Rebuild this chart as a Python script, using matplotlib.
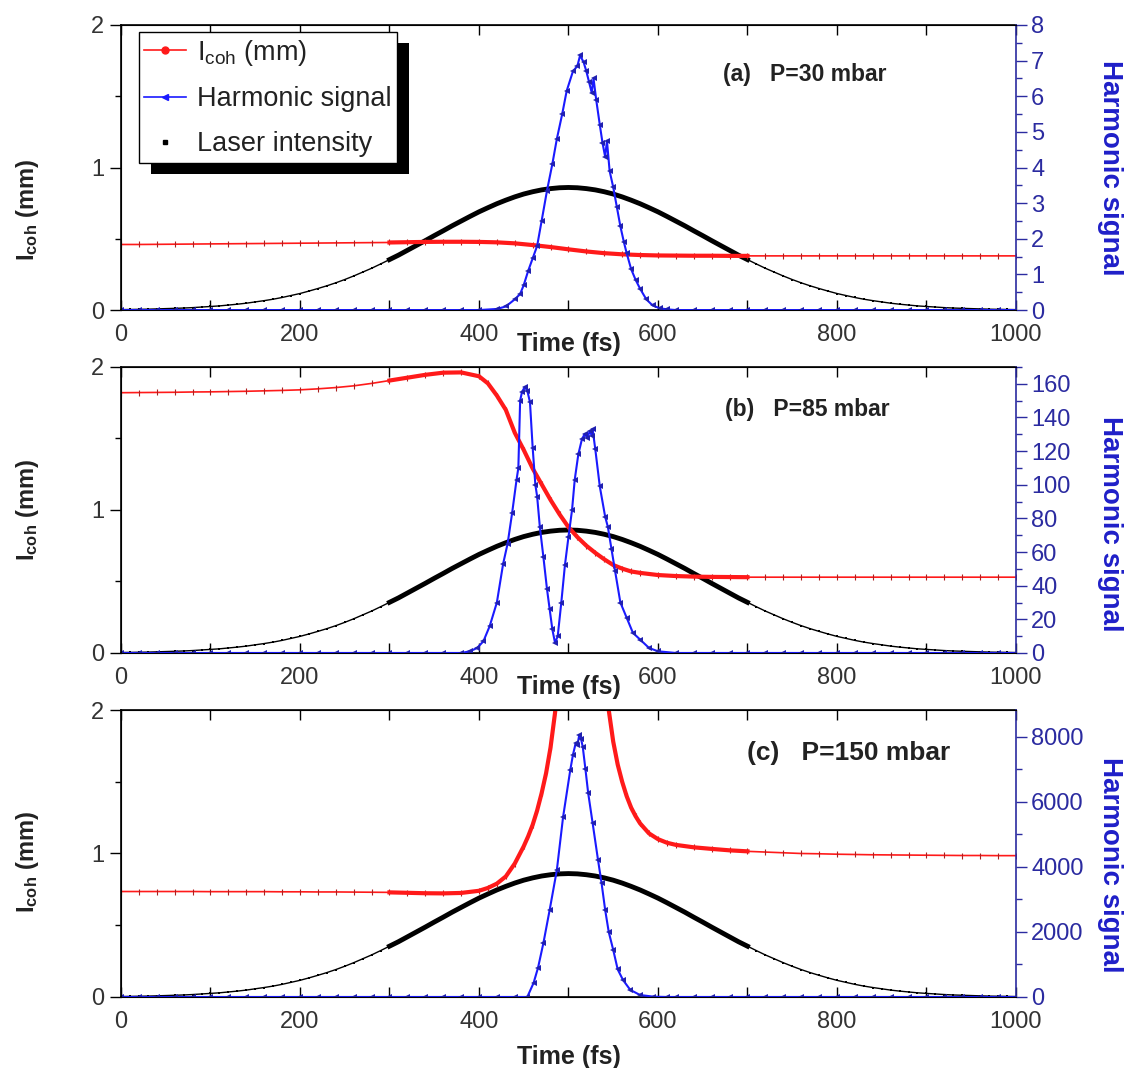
import numpy as np
import matplotlib
matplotlib.use("Agg")
import matplotlib.pyplot as plt
from matplotlib.lines import Line2D
from matplotlib.patches import Rectangle
from matplotlib.ticker import MultipleLocator

plt.rcParams['font.family'] = ['Liberation Sans', 'DejaVu Sans']
plt.rcParams['mathtext.fontset'] = 'custom'
plt.rcParams['mathtext.rm'] = 'Liberation Sans'
plt.rcParams['mathtext.bf'] = 'Liberation Sans:bold'
plt.rcParams['mathtext.it'] = 'Liberation Sans:italic'

# laser intensity (same pulse in all three panels), every 10 fs
t_laser = np.arange(0, 1001, 10)
laser = [0.003, 0.004, 0.005, 0.006, 0.008, 0.010, 0.012, 0.014, 0.017, 0.021,
         0.025, 0.029, 0.035, 0.041, 0.048, 0.057, 0.066, 0.076, 0.088, 0.102,
         0.116, 0.133, 0.151, 0.170, 0.191, 0.214, 0.239, 0.266, 0.293, 0.323,
         0.354, 0.385, 0.419, 0.453, 0.487, 0.522, 0.556, 0.591, 0.624, 0.657,
         0.689, 0.718, 0.746, 0.771, 0.794, 0.814, 0.830, 0.843, 0.852, 0.858,
         0.860,
         0.858, 0.852, 0.843, 0.830, 0.814, 0.794, 0.771, 0.746, 0.718, 0.689,
         0.657, 0.624, 0.591, 0.556, 0.522, 0.487, 0.453, 0.419, 0.385, 0.354,
         0.323, 0.293, 0.266, 0.239, 0.214, 0.191, 0.170, 0.151, 0.133, 0.116,
         0.102, 0.088, 0.076, 0.066, 0.057, 0.048, 0.041, 0.035, 0.029, 0.025,
         0.021, 0.017, 0.014, 0.012, 0.010, 0.008, 0.006, 0.005, 0.004, 0.003]

# (a) P=30 mbar
t_red_a = [0, 20, 40, 60, 80, 100, 120, 140, 160, 180, 200, 220, 240, 260, 280, 300,
           320, 340, 360, 380, 400, 420, 440, 460, 480, 500, 520, 540, 560, 580, 600,
           620, 640, 660, 680, 700,
           720, 740, 760, 780, 800, 820, 840, 860, 880, 900, 920, 940, 960, 980, 1000]
red_a = [0.460, 0.460, 0.461, 0.462, 0.463, 0.464, 0.465, 0.466, 0.467, 0.468, 0.469,
         0.470, 0.471, 0.472, 0.473, 0.474,
         0.476, 0.478, 0.479, 0.479, 0.478, 0.475, 0.468, 0.456, 0.442, 0.426, 0.411,
         0.399, 0.391, 0.386, 0.383, 0.382, 0.381, 0.381, 0.380, 0.380,
         0.380, 0.380, 0.380, 0.380, 0.380, 0.380, 0.380, 0.380, 0.380, 0.380, 0.380,
         0.380, 0.380, 0.380, 0.380]
t_harm_a = [0, 20, 40, 60, 80, 100, 120, 140, 160, 180, 200, 220, 240, 260, 280, 300,
            320, 340, 360, 380, 400, 420, 430, 440, 446, 450, 455, 460, 465, 470, 476,
            482, 487, 493, 498, 505, 510, 513, 517, 520, 523, 526, 528, 531, 535, 538,
            541, 543, 546, 550, 554, 558, 562, 565, 570, 575, 580, 587, 594, 602, 610,
            620, 640, 660, 680, 700,
            720, 740, 760, 780, 800, 820, 840, 860, 880, 900, 920, 940, 960, 980, 1000]
harm_a = [0, 0, 0, 0, 0, 0, 0, 0, 0, 0, 0, 0, 0, 0, 0, 0,
          0, 0, 0, 0, 0, 0.03, 0.1, 0.3, 0.45, 0.7, 1.1, 1.45, 1.8, 2.5, 3.35,
          4.1, 4.8, 5.5, 6.15, 6.7, 6.85, 7.15, 6.95, 6.7, 6.4, 6.1, 6.5, 5.9, 5.2, 4.7,
          4.3, 4.75, 3.9, 3.45, 2.9, 2.35, 1.9, 1.6, 1.15, 0.85, 0.6, 0.3, 0.13, 0.05, 0.02,
          0, 0, 0, 0, 0,
          0, 0, 0, 0, 0, 0, 0, 0, 0, 0, 0, 0, 0, 0, 0]

# (b) P=85 mbar
t_red_b = [0, 20, 40, 60, 80, 100, 120, 140, 160, 180, 200, 220, 240, 260, 280, 300,
           320, 340, 360, 380, 400, 410, 420, 430, 440, 450, 460, 470, 480, 490, 500,
           510, 520, 530, 540, 550, 560, 570, 580, 600, 620, 640, 660, 680, 700,
           720, 740, 760, 780, 800, 820, 840, 860, 880, 900, 920, 940, 960, 980, 1000]
red_b = [1.820, 1.821, 1.822, 1.823, 1.825, 1.826, 1.828, 1.830, 1.833, 1.836, 1.840,
         1.847, 1.856, 1.868, 1.885, 1.905,
         1.925, 1.945, 1.960, 1.962, 1.935, 1.885, 1.800, 1.700, 1.540, 1.420, 1.290,
         1.180, 1.070, 0.970, 0.880, 0.810, 0.750, 0.700, 0.655, 0.615, 0.590, 0.570,
         0.560, 0.545, 0.538, 0.534, 0.532, 0.531, 0.530,
         0.530, 0.530, 0.530, 0.530, 0.530, 0.530, 0.530, 0.530, 0.530, 0.530, 0.530,
         0.530, 0.530, 0.530, 0.530]
t_harm_b = [0, 20, 40, 60, 80, 100, 120, 140, 160, 180, 200, 220, 240, 260, 280, 300,
            320, 340, 360, 380, 390, 398, 405, 412, 420, 427, 432, 437, 442, 444, 446,
            448, 451, 454, 457, 460, 463, 465, 468, 472, 476, 479, 482, 485, 488, 492,
            496, 500, 504, 507, 511, 515, 518, 521, 524, 526, 527, 530, 535, 541, 544,
            548, 552, 558, 565, 572, 580, 590, 600, 620, 640, 660, 680, 700,
            720, 740, 760, 780, 800, 820, 840, 860, 880, 900, 920, 940, 960, 980, 1000]
harm_b = [0, 0, 0, 0, 0, 0, 0, 0, 0, 0, 0, 0, 0, 0, 0, 0,
          0, 0, 0, 0, 1, 3, 7, 16, 30, 53, 65, 83, 103, 110, 150,
          155, 158, 156, 149, 122, 100, 93, 75, 57, 38, 26, 14, 6, 10, 30,
          52, 69, 85, 103, 118, 127, 130, 128, 132, 129, 133, 121, 99, 81, 75,
          62, 49, 30, 21, 12, 8, 3, 1, 0, 0, 0, 0, 0,
          0, 0, 0, 0, 0, 0, 0, 0, 0, 0, 0, 0, 0, 0, 0]

# (c) P=150 mbar
t_red_c = [0, 20, 40, 60, 80, 100, 120, 140, 160, 180, 200, 220, 240, 260, 280, 300,
           320, 340, 360, 380, 400, 410, 420, 430, 440, 450, 455, 460, 465, 470, 475,
           480, 485, 490, 500, 520, 535, 540, 545, 550, 555, 560, 565, 570, 575, 580,
           590, 600, 610, 620, 640, 660, 680, 700,
           720, 740, 760, 780, 800, 820, 840, 860, 880, 900, 920, 940, 960, 980, 1000]
red_c = [0.735, 0.735, 0.735, 0.735, 0.735, 0.734, 0.734, 0.734, 0.734, 0.733, 0.733,
         0.732, 0.732, 0.731, 0.730, 0.729,
         0.726, 0.723, 0.722, 0.725, 0.740, 0.760, 0.790, 0.840, 0.930, 1.050, 1.120,
         1.200, 1.300, 1.420, 1.560, 1.740, 1.980, 2.300, 3.000, 3.200, 2.600, 2.300,
         2.000, 1.780, 1.620, 1.500, 1.400, 1.320, 1.260, 1.210, 1.140, 1.100, 1.075,
         1.060, 1.043, 1.032, 1.022, 1.015,
         1.010, 1.005, 1.000, 0.998, 0.995, 0.993, 0.991, 0.990, 0.989, 0.988, 0.987,
         0.986, 0.986, 0.985, 0.985]
t_harm_c = [0, 20, 40, 60, 80, 100, 120, 140, 160, 180, 200, 220, 240, 260, 280, 300,
            320, 340, 360, 380, 400, 420, 440, 454, 461, 466, 472, 479, 487, 494, 502,
            505, 508, 510, 512, 514, 516, 519, 522, 527, 533, 537, 541, 545, 550, 555,
            561, 569, 580, 595, 610, 620, 640, 660, 680, 700,
            720, 740, 760, 780, 800, 820, 840, 860, 880, 900, 920, 940, 960, 980, 1000]
harm_c = [0, 0, 0, 0, 0, 0, 0, 0, 0, 0, 0, 0, 0, 0, 0, 0,
          0, 0, 0, 0, 0, 0, 0, 0, 430, 900, 1660, 2680, 3900, 5540, 6980,
          7450, 7800, 7750, 8050, 7950, 7690, 7000, 6280, 5350, 4220, 3500, 2680, 2000, 1450, 850,
          520, 220, 60, 10, 0, 0, 0, 0, 0, 0,
          0, 0, 0, 0, 0, 0, 0, 0, 0, 0, 0, 0, 0, 0, 0]

panels = [
    dict(t_red=t_red_a, red=red_a, t_harm=t_harm_a, harm=harm_a, hmax=8, hmaj=1, hmin=0.5,
         title='(a)   P=30 mbar', tsize=16.5, pos=(0.1066, 0.7097, 0.7885, 0.2669),
         title_xy=(0.673, 0.825), ylab_y=0.35, hlab_y=0.5),
    dict(t_red=t_red_b, red=red_b, t_harm=t_harm_b, harm=harm_b, hmax=170, hmaj=20, hmin=10,
         title='(b)   P=85 mbar', tsize=16.5, pos=(0.1066, 0.3886, 0.7885, 0.2678),
         title_xy=(0.675, 0.85), ylab_y=0.5, hlab_y=0.45),
    dict(t_red=t_red_c, red=red_c, t_harm=t_harm_c, harm=harm_c, hmax=8830, hmaj=2000, hmin=1000,
         title='(c)   P=150 mbar', tsize=19, pos=(0.1066, 0.0665, 0.7885, 0.2687),
         title_xy=(0.70, 0.85), ylab_y=0.47, hlab_y=0.46),
]

RED = '#ff1a1a'
BLUE = '#1a1aff'
AXBLUE = '#2b2ba0'
TXT = '#333333'

fig = plt.figure(figsize=(11.35, 10.68), dpi=100)
t_laser = np.asarray(t_laser)
laser = np.asarray(laser)
mid_l = (t_laser >= 300) & (t_laser <= 700)

axes = []
for i, p in enumerate(panels):
    ax = fig.add_axes(p['pos'])
    ax2 = ax.twinx()
    tr = np.asarray(p['t_red'])
    rv = np.asarray(p['red'])
    th = np.asarray(p['t_harm'])
    hv = np.asarray(p['harm'])

    # laser
    ax.plot(t_laser, laser, color='black', lw=1, marker='s', ms=2, mew=0)
    ax.plot(t_laser[mid_l], laser[mid_l], color='black', lw=3.5)
    # coherence length
    mid_r = (tr >= 300) & (tr <= 700)
    ax.plot(tr, rv, color=RED, lw=1.2, marker='|', ms=5, mew=0.8, mec='#aa2020')
    ax.plot(tr[mid_r], rv[mid_r], color=RED, lw=3)
    # harmonic signal
    ax2.plot(th, hv, color=BLUE, lw=1.5, marker='<', ms=4, mew=0, mfc='#2020b0')

    ax.set_xlim(0, 1000)
    ax.set_ylim(0, 2)
    ax2.set_ylim(0, p['hmax'])
    ax.set_xticks(range(0, 1001, 200))
    ax.xaxis.set_minor_locator(MultipleLocator(100))
    ax.set_yticks([0, 1, 2])
    ax.yaxis.set_minor_locator(MultipleLocator(0.5))
    ax2.yaxis.set_major_locator(MultipleLocator(p['hmaj']))
    ax2.yaxis.set_minor_locator(MultipleLocator(p['hmin']))

    ax.tick_params(axis='x', which='both', direction='in', top=True, length=7, width=1,
                   labelsize=17, labelcolor=TXT, pad=10)
    ax.tick_params(axis='y', which='major', direction='out', length=8, width=1,
                   labelsize=17, labelcolor=TXT, pad=4)
    ax.tick_params(axis='y', which='minor', direction='out', length=4, width=1)
    ax2.tick_params(axis='y', which='major', direction='out', length=8, width=1,
                    colors=AXBLUE, labelsize=17, pad=3)
    ax2.tick_params(axis='y', which='minor', direction='out', length=4, width=1,
                    colors=AXBLUE)
    ax.spines['right'].set_visible(False)
    ax2.spines['right'].set_color(AXBLUE)
    for s in ['left', 'top', 'bottom']:
        ax.spines[s].set_linewidth(1.2)
    ax2.spines['right'].set_linewidth(1.2)

    ax.set_ylabel(r'$\mathbf{I_{coh}}$ (mm)', fontsize=17, fontweight='bold',
                  color='#222222', va='center', ha='center')
    ax.yaxis.set_label_coords(-0.104, p['ylab_y'])
    ax2.set_ylabel('Harmonic signal', fontsize=20, fontweight='bold', color='#1f1fc8',
                   rotation=-90, va='center', ha='center')
    ax2.yaxis.set_label_coords(1.105, p['hlab_y'])

    ax.set_xlabel('Time (fs)', fontsize=18, fontweight='bold', color='#222222')
    if i < 2:
        ax.xaxis.set_label_coords(0.5, -0.078)
    else:
        ax.xaxis.set_label_coords(0.5, -0.168)

    ax.text(p['title_xy'][0], p['title_xy'][1], p['title'], transform=ax.transAxes,
            fontsize=p['tsize'], fontweight='bold', color='#222222', ha='left', va='center')
    axes.append((ax, ax2))

# legend with a solid black offset shadow
ax, ax2 = axes[0]
handles = [Line2D([], [], color=RED, lw=1.2, marker='o', ms=5),
           Line2D([], [], color=BLUE, lw=1.2, marker='<', ms=5),
           Line2D([], [], color='black', lw=0, marker='s', ms=2.5)]
labels = [r'I$_{\rm coh}$ (mm)', 'Harmonic signal', 'Laser intensity']
leg = ax2.legend(handles, labels, loc='upper left', bbox_to_anchor=(0.02, 0.975),
                 frameon=True, fancybox=False, edgecolor='black', framealpha=1,
                 fontsize=19.5, handlelength=1.55, borderpad=0.2, labelspacing=0.7,
                 handletextpad=0.4, borderaxespad=0)
leg.get_frame().set_linewidth(1)
for txt in leg.get_texts():
    txt.set_color('#222222')

fig.canvas.draw()
bb = leg.get_window_extent()
inv = ax2.transAxes.inverted()
(x0, y0), (x1, y1) = inv.transform(bb.get_points())
shadow = Rectangle((x0 + 12 / 895, y0 - 11 / 285), x1 - x0, y1 - y0,
                   transform=ax2.transAxes, facecolor='black', edgecolor='none',
                   zorder=leg.get_zorder() - 0.1, clip_on=False)
ax2.add_artist(shadow)

fig.savefig('out.png', dpi=100)
